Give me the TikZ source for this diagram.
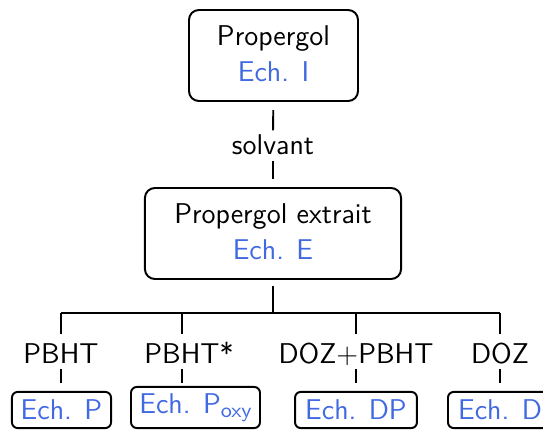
\documentclass[tikz,border=0pt]{standalone}
\usetikzlibrary{positioning}
\definecolor{echblue}{RGB}{65,105,225}
\newcommand{\dropfix}{\rule[-1.5pt]{0pt}{1pt}}
\begin{document}
\begin{tikzpicture}[x=0.3846pt,y=-0.3846pt,
  every node/.style={font=\sffamily\fontsize{11}{14.2}\selectfont},
  bigbox/.style={draw, line width=0.75pt, rounded corners=3.8pt, inner sep=0pt, align=center},
  smallbox/.style={draw, line width=0.75pt, rounded corners=2.2pt, inner sep=0pt, minimum height=13.9pt, text=echblue},
  lbl/.style={inner sep=0pt, anchor=base, text height=10.77pt, text depth=2.1pt},
  conn/.style={line width=0.7pt}]
\clip (0,0) rectangle (543,430);
% main boxes
\node[bigbox, minimum width=65pt, minimum height=35pt] (top) at (273.5,55.5)
  {Propergol\\\textcolor{echblue}{Ech. I}\dropfix};
\node[bigbox, minimum width=98.5pt, minimum height=35pt] (mid) at (273,233.5)
  {Propergol extrait\\\textcolor{echblue}{Ech. E}\dropfix};
% solvant
\node[inner sep=0pt, anchor=base, text height=8.85pt, text depth=2.3pt] (solv) at (273,154) {solvant};
\draw[conn, shorten <=3.1pt] (top) -- (solv);
\draw[conn, shorten >=3.1pt] (solv) -- (mid);
% fork
\coordinate (fork) at (273,313);
\coordinate (f1) at (61,313);
\coordinate (f2) at (182,313);
\coordinate (f3) at (356,313);
\coordinate (f4) at (500,313);
\draw[conn, shorten <=2.3pt] (mid) -- (fork);
\draw[conn] (f1) -- (f4);
% labels
\node[lbl] (l1) at (61,363) {PBHT};
\node[lbl] (l2) at (182,363) {PBHT\rlap{*}};
\node[lbl] (l3) at (356,363) {DOZ+PBHT};
\node[lbl] (l4) at (500,363) {DOZ};
\draw[conn] (f1) -- (l1);
\draw[conn] (f2) -- (l2);
\draw[conn] (f3) -- (l3);
\draw[conn] (f4) -- (l4);
% children
\node[smallbox, minimum width=38.1pt] (cP) at (61.5,410) {Ech. P};
\node[smallbox, minimum width=49.6pt, minimum height=15.8pt] (cPo) at (195.5,407.5)
  {Ech. P\raisebox{-1.5pt}{\fontsize{8}{9}\selectfont oxy}};
\node[smallbox, minimum width=46.9pt] (cDP) at (356,410) {Ech. DP};
\node[smallbox, minimum width=40pt] (cD) at (500,410) {Ech. D};
\coordinate (e1) at (61,383);
\coordinate (e2) at (182,383);
\coordinate (e3) at (356,383);
\coordinate (e4) at (500,383);
\draw[conn] (l1) -- (e1);
\draw[conn] (l2) -- (e2);
\draw[conn] (l3) -- (e3);
\draw[conn] (l4) -- (e4);
\end{tikzpicture}
\end{document}
